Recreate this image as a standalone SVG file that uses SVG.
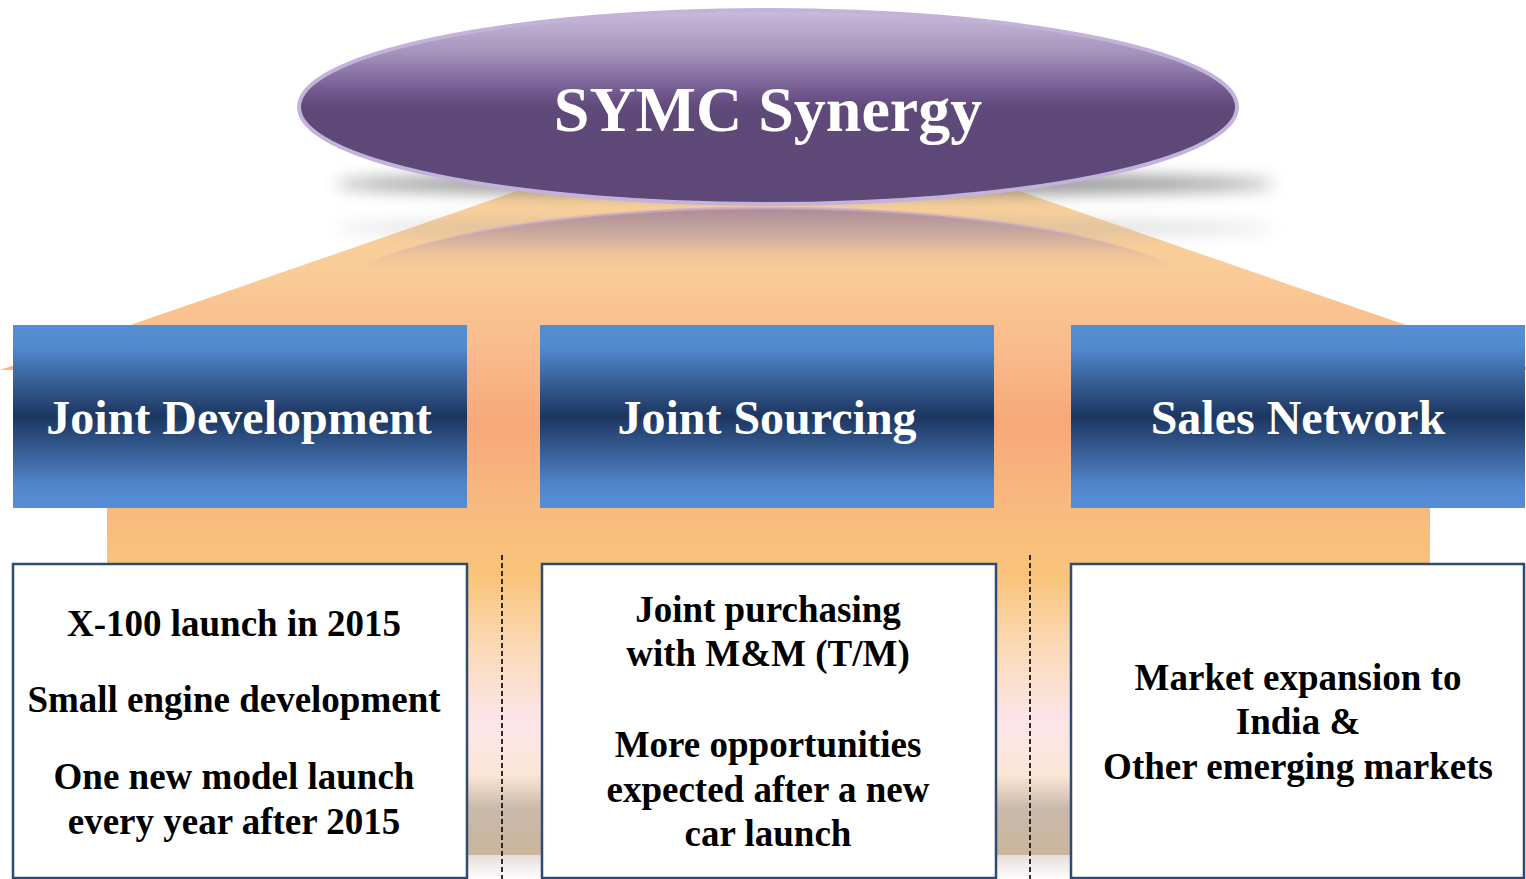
<svg xmlns="http://www.w3.org/2000/svg" width="1526" height="879" viewBox="0 0 1526 879">
<style>
.hdr{font-family:"Liberation Serif","Times New Roman",serif;font-weight:bold;font-size:48px;fill:#fff;text-anchor:middle}
.body{font-family:"Liberation Serif","Times New Roman",serif;font-weight:bold;font-size:37px;fill:#000;text-anchor:middle}
.blue{fill:url(#blueG)}
.box{fill:#fff;stroke:#2E4B73;stroke-width:2.5}
.dash{stroke:#000;stroke-width:1.6;stroke-dasharray:5,3;fill:none}
</style>
<defs>
<linearGradient id="orangeG" x1="0" y1="190" x2="0" y2="855" gradientUnits="userSpaceOnUse">
<stop offset="0" stop-color="#F9D29C"/>
<stop offset="0.12" stop-color="#F9CC98"/>
<stop offset="0.25" stop-color="#F9B98A"/>
<stop offset="0.35" stop-color="#F8A879"/>
<stop offset="0.47" stop-color="#F8B97F"/>
<stop offset="0.58" stop-color="#F9C47A"/>
<stop offset="0.69" stop-color="#FBDAB8"/>
<stop offset="0.80" stop-color="#FCE5EA"/>
<stop offset="0.88" stop-color="#FBE6D6"/>
<stop offset="0.93" stop-color="#C9B9AA"/>
<stop offset="1" stop-color="#C9B69C"/>
</linearGradient>
<linearGradient id="blueG" x1="0" y1="0" x2="0" y2="1">
<stop offset="0" stop-color="#558ED5"/>
<stop offset="0.12" stop-color="#5389CE"/>
<stop offset="0.5" stop-color="#1C3660"/>
<stop offset="0.88" stop-color="#5286CC"/>
<stop offset="1" stop-color="#558ED5"/>
</linearGradient>
<linearGradient id="ellG" x1="0" y1="0" x2="0" y2="1">
<stop offset="0" stop-color="#CABCDB"/>
<stop offset="0.22" stop-color="#A593BB"/>
<stop offset="0.42" stop-color="#72598F"/>
<stop offset="0.5" stop-color="#5F4979"/>
<stop offset="1" stop-color="#5E4878"/>
</linearGradient>
<linearGradient id="reflG" x1="0" y1="0" x2="0" y2="1">
<stop offset="0" stop-color="#987896" stop-opacity="0.8"/>
<stop offset="0.18" stop-color="#C29EA0" stop-opacity="0.5"/>
<stop offset="0.35" stop-color="#F9CD98" stop-opacity="0"/>
</linearGradient>
<linearGradient id="reflS" x1="0" y1="0" x2="0" y2="1">
<stop offset="0" stop-color="#C8A8C8" stop-opacity="0.7"/>
<stop offset="0.3" stop-color="#C8A8C8" stop-opacity="0"/>
</linearGradient>
<linearGradient id="floorG" x1="0" y1="0" x2="0" y2="1">
<stop offset="0" stop-color="#D8D0CC"/>
<stop offset="1" stop-color="#FFFFFF"/>
</linearGradient>
<filter id="blur" x="-10%" y="-150%" width="120%" height="400%">
<feGaussianBlur stdDeviation="8"/>
</filter>
</defs>

<g id="background">
<path d="M0,370 L520,190 L1016,190 L1536,370 L1430,370 L1430,855 L107,855 L107,370 Z" fill="url(#orangeG)"/>
<rect x="107" y="855" width="1323" height="24" fill="url(#floorG)" opacity="0.7"/>
<ellipse cx="805" cy="184" rx="470" ry="11" fill="#777" opacity="0.8" filter="url(#blur)"/>
<ellipse cx="805" cy="228" rx="470" ry="8" fill="#AAA" opacity="0.45" filter="url(#blur)"/>
<ellipse cx="768" cy="305" rx="440" ry="97" fill="url(#reflG)" stroke="url(#reflS)" stroke-width="3"/>
</g>

<g id="node-synergy">
<ellipse cx="768" cy="107" rx="469" ry="97" fill="url(#ellG)" stroke="#C3B3DB" stroke-width="4"/>
<text x="768" y="131" font-family="'Liberation Serif','Times New Roman',serif" font-weight="bold" font-size="64" fill="#fff" text-anchor="middle">SYMC Synergy</text>
</g>

<g id="node-joint-development">
<rect class="blue" x="13" y="325" width="454" height="183"/>
<text class="hdr" x="239" y="434">Joint Development</text>
</g>
<g id="node-joint-sourcing">
<rect class="blue" x="540" y="325" width="454" height="183"/>
<text class="hdr" x="767" y="434">Joint Sourcing</text>
</g>
<g id="node-sales-network">
<rect class="blue" x="1071" y="325" width="454" height="183"/>
<text class="hdr" x="1298" y="434">Sales Network</text>
</g>

<g id="node-development-details">
<rect class="box" x="13" y="564" width="454" height="314"/>
<text class="body" x="234" y="636">X-100 launch in 2015</text>
<text class="body" x="234" y="712">Small engine development</text>
<text class="body" x="234" y="789">One new model launch</text>
<text class="body" x="234" y="834">every year after 2015</text>
</g>
<g id="node-sourcing-details">
<rect class="box" x="542" y="564" width="454" height="314"/>
<text class="body" x="768" y="622">Joint purchasing</text>
<text class="body" x="768" y="666">with M&amp;M (T/M)</text>
<text class="body" x="768" y="757">More opportunities</text>
<text class="body" x="768" y="802">expected after a new</text>
<text class="body" x="768" y="846">car launch</text>
</g>
<g id="node-sales-details">
<rect class="box" x="1071" y="564" width="453" height="314"/>
<text class="body" x="1298" y="690">Market expansion to</text>
<text class="body" x="1298" y="734">India &amp;</text>
<text class="body" x="1298" y="779">Other emerging markets</text>
</g>

<g id="connectors">
<line class="dash" x1="502" y1="555" x2="502" y2="879"/>
<line class="dash" x1="1030" y1="555" x2="1030" y2="879"/>
</g>
</svg>
